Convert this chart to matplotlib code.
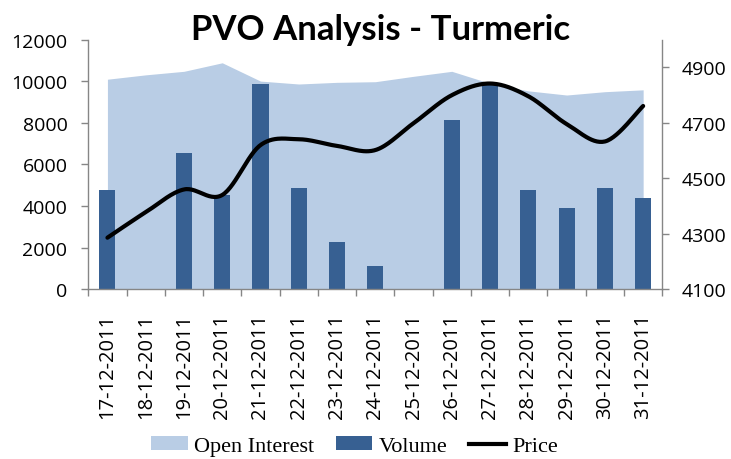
import numpy as np
import matplotlib
matplotlib.use("Agg")
import matplotlib.pyplot as plt
from matplotlib.patches import Patch
from matplotlib.lines import Line2D

dates = ["17-12-2011", "18-12-2011", "19-12-2011", "20-12-2011", "21-12-2011",
         "22-12-2011", "23-12-2011", "24-12-2011", "25-12-2011", "26-12-2011",
         "27-12-2011", "28-12-2011", "29-12-2011", "30-12-2011", "31-12-2011"]
open_interest = [10100, 10310, 10480, 10890, 10010, 9870, 9950, 9980, 10240, 10480,
                 9900, 9540, 9340, 9500, 9590]
volume = [4780, 0, 6530, 4540, 9880, 4860, 2280, 1100, 0, 8130, 9880, 4760, 3930, 4850, 4370]
price = [4286, 4378, 4460, 4440, 4620, 4641, 4617, 4602, 4699, 4800, 4842, 4796, 4696, 4633, 4761]

LIGHT = "#b9cde5"
DARK = "#376092"
GRAY = "#868686"
FONT = "Open Sans"


def smooth(xs, ys, n=30):
    """Excel-style smoothed line: cubic Bezier with Catmull-Rom control points."""
    pts = np.column_stack([xs, ys]).astype(float)
    out = []
    for i in range(len(pts) - 1):
        p0 = pts[max(i - 1, 0)]
        p1 = pts[i]
        p2 = pts[i + 1]
        p3 = pts[min(i + 2, len(pts) - 1)]
        c1 = p1 + (p2 - p0) / 6
        c2 = p2 - (p3 - p1) / 6
        t = np.linspace(0, 1, n)[:, None]
        seg = ((1 - t) ** 3) * p1 + 3 * ((1 - t) ** 2) * t * c1 + 3 * (1 - t) * t ** 2 * c2 + t ** 3 * p2
        out.append(seg if i == 0 else seg[1:])
    seg = np.vstack(out)
    return seg[:, 0], seg[:, 1]


fig = plt.figure(figsize=(7.31, 4.60), dpi=100)
ax = fig.add_axes([0.1208, 0.369, 0.906 - 0.1208, 0.5425])
x = np.arange(len(dates))

ax.fill_between(x, open_interest, 0, color=LIGHT, lw=0, zorder=1)
ax.bar(x, volume, width=0.42, color=DARK, zorder=2)
ax.set_xlim(-0.5, len(dates) - 0.5)
ax.set_ylim(0, 12000)
ax.set_yticks(range(0, 12001, 2000))
ax.set_xticks(np.arange(-0.5, len(dates), 1.0))
ax.set_xticklabels([])
ax.set_xticks(x, minor=True)
ax.set_xticklabels(dates, minor=True, rotation=90, fontsize=14.5, family=FONT)
ax.tick_params(axis="x", which="minor", length=0, pad=17)
ax.tick_params(axis="x", which="major", length=5, width=1, color=GRAY, direction="out")
ax.tick_params(axis="y", length=5, width=1, color=GRAY, pad=10, labelsize=14)
for lab in ax.get_yticklabels():
    lab.set_family(FONT)

ax2 = ax.twinx()
px, py = smooth(x, price)
ax2.plot(px, py, color="black", lw=3, solid_capstyle="round", zorder=3)
ax2.set_ylim(4100, 5000)
ax2.set_yticks(range(4100, 4901, 200))
ax2.tick_params(axis="y", length=5, width=1, color=GRAY, pad=9, labelsize=14)
for lab in ax2.get_yticklabels():
    lab.set_family(FONT)

for a in (ax, ax2):
    a.spines["top"].set_visible(False)
    for s in ("left", "right", "bottom"):
        a.spines[s].set_color(GRAY)
        a.spines[s].set_linewidth(1)
ax.spines["right"].set_visible(False)
ax2.spines["left"].set_visible(False)
ax2.spines["bottom"].set_visible(False)

fig.text(0.521, 0.935, "PVO Analysis - Turmeric", ha="center", va="center",
         fontsize=25, fontweight="bold", family="Lato")

handles = [Patch(facecolor=LIGHT, edgecolor="none"),
           Patch(facecolor=DARK, edgecolor="none"),
           Line2D([], [], color="black", lw=3)]
fig.legend(handles, ["Open Interest", "Volume", "Price"], ncol=3, loc="center",
           bbox_to_anchor=(0.485, 0.028), frameon=False,
           prop={"family": "Liberation Serif", "size": 16},
           handlelength=1.65, handleheight=0.55, handletextpad=0.3, columnspacing=0.95,
           borderpad=0, borderaxespad=0)

fig.savefig("out.png", dpi=100)
